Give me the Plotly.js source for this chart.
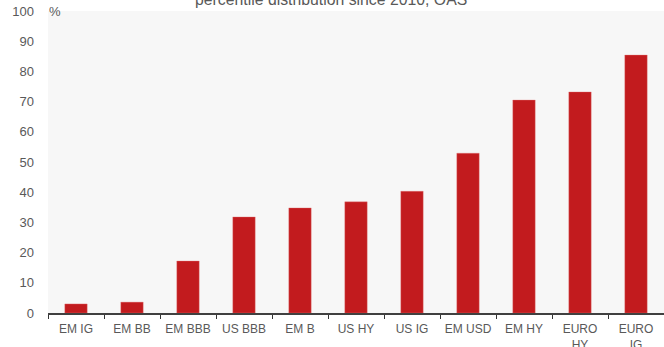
<!DOCTYPE html>
<html>
<head>
<meta charset="utf-8">
<script src="https://cdn.plot.ly/plotly-3.0.1.min.js"></script>
<style>
  html, body { margin: 0; padding: 0; overflow: hidden; background: #fff; }
  #chart { width: 664px; height: 347px; }
</style>
</head>
<body>
<div id="chart"></div>
<script>
// Credit segments, ordered from lowest to highest spread percentile
const categories = ["EM IG", "EM BB", "EM BBB", "US BBB", "EM B", "US HY", "US IG", "EM USD", "EM HY", "EURO<br>HY", "EURO<br>IG"];
// Current OAS percentile (%) within the distribution since 2010
const percentile = [3.0, 3.6, 17.2, 31.8, 34.8, 36.8, 40.3, 52.9, 70.5, 73.2, 85.4];
const yTicks = [0, 10, 20, 30, 40, 50, 60, 70, 80, 90, 100];

const grey = "#595959";
const font = "Liberation Sans, Arial, sans-serif";

const trace = {
  type: "bar",
  x: categories,
  y: percentile,
  marker: { color: "#c21b1e", line: { color: "rgba(230,120,120,0.6)", width: 0.6 } },
  hoverinfo: "x+y"
};

const layout = {
  width: 664,
  height: 347,
  margin: { l: 48, r: 0, t: 11, b: 34 },
  paper_bgcolor: "#ffffff",
  plot_bgcolor: "#f7f7f7",
  bargap: 0.6,
  showlegend: false,
  font: { family: font, color: grey },
  xaxis: {
    type: "category",
    tickson: "boundaries",
    ticks: "outside",
    ticklen: 4,
    tickwidth: 1,
    tickcolor: "#333333",
    tickangle: 0,
    showline: true,
    linecolor: "#404040",
    linewidth: 1.5,
    showgrid: false,
    ticklabelstandoff: 4,
    tickfont: { family: font, size: 12, color: grey },
    fixedrange: true
  },
  yaxis: {
    range: [0, 100],
    tickvals: yTicks,
    ticktext: yTicks.map(String),
    showgrid: false,
    zeroline: false,
    showline: false,
    ticks: "",
    ticklabelstandoff: 13,
    tickfont: { family: font, size: 13, color: grey },
    fixedrange: true
  },
  annotations: [
    {
      text: "%",
      xref: "paper", yref: "paper",
      x: 0, y: 1,
      xanchor: "left", yanchor: "middle",
      xshift: -1,
      showarrow: false,
      font: { family: font, size: 13, color: grey }
    },
    {
      text: "percentile distribution since 2010, OAS",
      xref: "paper", yref: "paper",
      x: 0.459, y: 1,
      xanchor: "center", yanchor: "bottom",
      yshift: 1,
      showarrow: false,
      font: { family: font, size: 15.8, color: grey }
    }
  ]
};

Plotly.newPlot("chart", [trace], layout, { displayModeBar: false, staticPlot: true });
</script>
</body>
</html>
